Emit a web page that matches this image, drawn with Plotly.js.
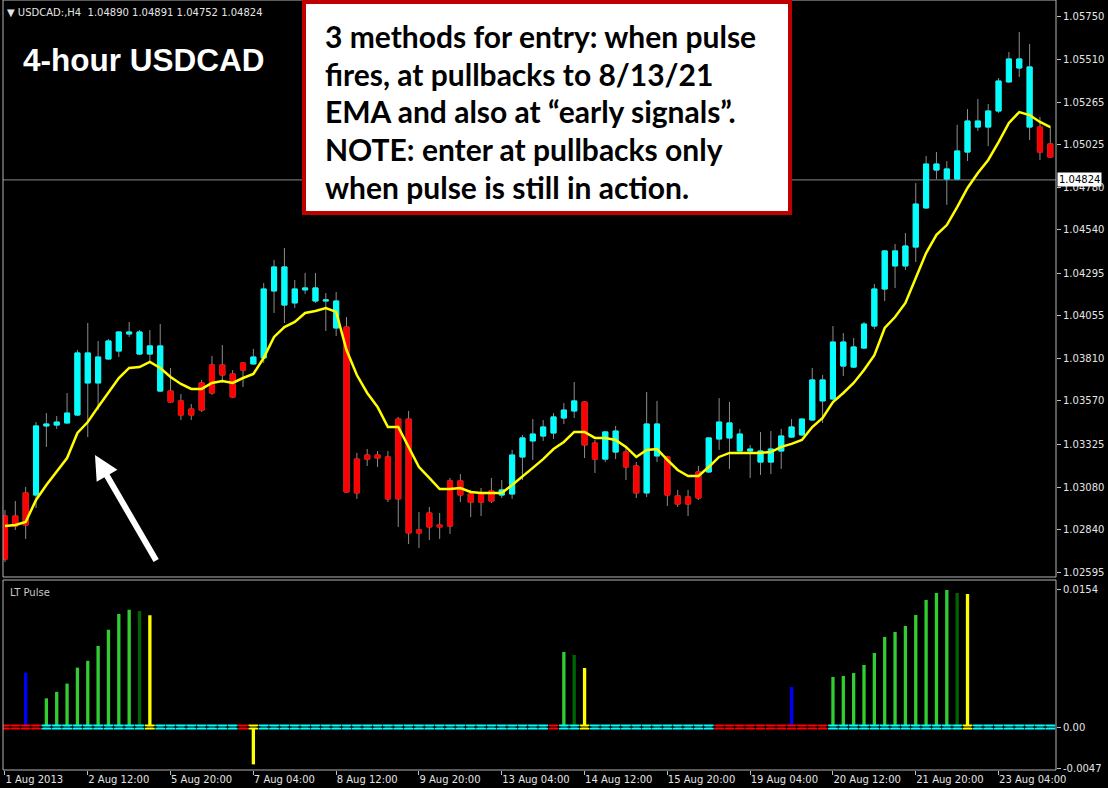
<!DOCTYPE html>
<html><head><meta charset="utf-8">
<script src="https://cdn.plot.ly/plotly-3.0.1.min.js"></script>
<style>html,body{margin:0;padding:0;background:#000;} #chart{width:1108px;height:788px;}</style>
</head><body><div id="chart"></div>
<script>
// ---- price data (4-hour bars, 1 Aug 2013 04:00 onward) ----
const open = [1.02917,1.02917,1.03048,1.03036,1.03428,1.03433,1.03445,1.03490,1.03672,1.03672,
1.03808,1.03853,1.03950,1.03836,1.03836,1.03626,1.03626,1.03570,1.03524,1.03672,
1.03774,1.03774,1.03723,1.03785,1.03780,1.03814,1.04194,1.04114,1.04126,1.04200,
1.04137,1.04137,1.03984,1.03989,1.03240,1.03263,1.03263,1.03252,1.03467,1.03467,
1.02838,1.02934,1.02866,1.03116,1.03116,1.03042,1.03042,1.03059,1.03036,1.03042,
1.03252,1.03343,1.03371,1.03388,1.03473,1.03513,1.03564,1.03331,1.03240,1.03280,
1.03280,1.03201,1.03048,1.03258,1.03252,1.03031,1.03025,1.03167,1.03167,1.03354,
1.03360,1.03286,1.03286,1.03223,1.03223,1.03286,1.03365,1.03377,1.03462,1.03570,
1.03581,1.03768,1.03762,1.03870,1.03995,1.04205,1.04336,1.04336,1.04443,1.04665,
1.04880,1.04829,1.04829,1.04982,1.05124,1.05124,1.05215,1.05380,1.05459,1.05124,
1.05124,1.05028];
const high = [1.02951,1.03002,1.03082,1.03450,1.03501,1.03484,1.03615,1.03859,1.04012,1.03910,
1.03921,1.03966,1.04018,1.03972,1.03972,1.04006,1.03757,1.03609,1.03553,1.03689,
1.03825,1.03887,1.03745,1.03790,1.03865,1.04239,1.04370,1.04438,1.04256,1.04296,
1.04296,1.04182,1.04188,1.04046,1.03275,1.03297,1.03286,1.03286,1.03479,1.03513,
1.02940,1.02968,1.02934,1.03133,1.03155,1.03065,1.03076,1.03133,1.03121,1.03292,
1.03377,1.03467,1.03462,1.03501,1.03558,1.03677,1.03570,1.03348,1.03399,1.03428,
1.03303,1.03223,1.03621,1.03570,1.03258,1.03065,1.03065,1.03201,1.03360,1.03586,
1.03564,1.03411,1.03320,1.03394,1.03399,1.03411,1.03467,1.03472,1.03757,1.03717,
1.03995,1.03955,1.03927,1.04018,1.04233,1.04426,1.04460,1.04523,1.04806,1.04960,
1.04982,1.04931,1.05136,1.05226,1.05283,1.05255,1.05402,1.05550,1.05663,1.05595,
1.05181,1.05124];
const low = [1.02656,1.02838,1.02787,1.02962,1.03309,1.03411,1.03440,1.03485,1.03365,1.03518,
1.03805,1.03819,1.03933,1.03830,1.03791,1.03620,1.03560,1.03462,1.03462,1.03507,
1.03604,1.03672,1.03586,1.03649,1.03775,1.03785,1.04069,1.04012,1.04097,1.04177,
1.04126,1.03967,1.03938,1.03048,1.03014,1.03201,1.03195,1.02996,1.02855,1.02758,
1.02735,1.02781,1.02787,1.02815,1.02996,1.02911,1.02917,1.02991,1.03019,1.03014,
1.03121,1.03235,1.03343,1.03354,1.03439,1.03473,1.03246,1.03161,1.03223,1.03240,
1.03121,1.03019,1.03025,1.03223,1.02974,1.02968,1.02917,1.03008,1.03161,1.03292,
1.03184,1.03280,1.03133,1.03150,1.03155,1.03184,1.03360,1.03372,1.03456,1.03445,
1.03575,1.03711,1.03757,1.03865,1.03978,1.04137,1.04211,1.04313,1.04358,1.04660,
1.04829,1.04682,1.04824,1.04931,1.05102,1.05016,1.05204,1.05375,1.05408,1.05050,
1.04937,1.04950];
const close = [1.02673,1.02860,1.02866,1.03428,1.03439,1.03450,1.03501,1.03842,1.03842,1.03819,
1.03910,1.03961,1.03961,1.03961,1.03882,1.03882,1.03564,1.03490,1.03490,1.03518,
1.03615,1.03717,1.03592,1.03745,1.03819,1.04205,1.04330,1.04330,1.04205,1.04211,
1.04211,1.04143,1.04137,1.03053,1.03048,1.03240,1.03246,1.03014,1.03014,1.02821,
1.02821,1.02855,1.02855,1.02860,1.03036,1.02996,1.02996,1.03002,1.03065,1.03263,
1.03360,1.03382,1.03422,1.03479,1.03518,1.03570,1.03320,1.03240,1.03394,1.03399,
1.03195,1.03048,1.03439,1.03439,1.03036,1.02985,1.02985,1.03019,1.03360,1.03450,
1.03445,1.03382,1.03297,1.03286,1.03297,1.03371,1.03422,1.03467,1.03689,1.03689,
1.03904,1.03904,1.03876,1.04006,1.04205,1.04421,1.04421,1.04449,1.04687,1.04914,
1.04914,1.04886,1.04988,1.05158,1.05158,1.05215,1.05385,1.05510,1.05510,1.05465,
1.04982,1.04954];
const ema = [1.02860,1.02866,1.02883,1.03008,1.03093,1.03167,1.03246,1.03388,1.03450,1.03536,
1.03621,1.03700,1.03757,1.03762,1.03791,1.03757,1.03706,1.03666,1.03638,1.03638,
1.03672,1.03683,1.03672,1.03700,1.03723,1.03814,1.03933,1.03989,1.04018,1.04069,
1.04080,1.04097,1.04075,1.03859,1.03717,1.03615,1.03536,1.03422,1.03422,1.03309,
1.03195,1.03133,1.03070,1.03070,1.03076,1.03053,1.03048,1.03048,1.03048,1.03093,
1.03139,1.03190,1.03240,1.03297,1.03337,1.03394,1.03394,1.03360,1.03360,1.03348,
1.03309,1.03252,1.03292,1.03297,1.03235,1.03178,1.03144,1.03144,1.03195,1.03252,
1.03275,1.03275,1.03275,1.03275,1.03280,1.03309,1.03326,1.03348,1.03422,1.03473,
1.03564,1.03615,1.03672,1.03745,1.03830,1.03984,1.04046,1.04126,1.04268,1.04409,
1.04512,1.04568,1.04670,1.04778,1.04863,1.04937,1.05039,1.05147,1.05209,1.05192,
1.05153,1.05124];
const bidPrice = 1.04824;
const headerText = "USDCAD:,H4  1.04890 1.04891 1.04752 1.04824";

// ---- LT Pulse indicator ----
const pulseGreenBars = [4,5,6,7,8,9,10,11,12,54,80,81,82,83,84,85,86,87,88,89,90,91];
const pulseGreenVals = [0.00322,0.00395,0.00488,0.00667,0.00744,0.00911,0.01093,0.01270,0.01318,0.00843,
  0.00562,0.00573,0.00607,0.00697,0.00832,0.01012,0.01068,0.01135,0.01259,0.01428,0.01506,0.01540];
const pulseDarkBars = [13,55,92];
const pulseDarkVals = [0.01303,0.00809,0.01506];
const pulseYellowBars = [14,24,56,93];
const pulseYellowVals = [0.01256,-0.0042,0.00663,0.01495];
const pulseBlueBars = [2,76];
const pulseBlueVals = [0.0061,0.0045];
const zeroBearBars = [0,1,2,3,23,53,69,70,71,72,73,74,75,76,77,78,79];
const zeroExitBars = [14,24,56,93];

// ---- axis labels ----
const priceTicks = [1.05750,1.05510,1.05265,1.05025,1.04780,1.04540,1.04295,1.04055,1.03810,1.03570,1.03325,1.03080,1.02840,1.02595];
const pulseTicks = [0.0154,0,-0.0047];
const pulseTickText = ["0.0154","0.00","-0.0047"];
const timeTickBars = [0,8,16,24,32,40,48,56,64,72,80,88,96];
const timeTickText = ["1 Aug 2013","2 Aug 12:00","5 Aug 20:00","7 Aug 04:00","8 Aug 12:00","9 Aug 20:00","13 Aug 04:00","14 Aug 12:00","15 Aug 20:00","19 Aug 04:00","20 Aug 12:00","21 Aug 20:00","23 Aug 04:00"];
const noteLines = ["3 methods for entry: when pulse","fires, at pullbacks to 8/13/21","EMA and also at \u201Cearly signals\u201D.","NOTE: enter at pullbacks only","when pulse is still in action."];

// ---- build ----
const idx = open.map((_, i) => i);
const bodyHigh = open.map((o, i) => Math.max(o, close[i]));
const bodyLow = open.map((o, i) => Math.min(o, close[i]));
const CYAN = '#00FFFF', RED = '#FF0000', WICK = '#8C8C8C';
const zeroColors = idx.map(i => zeroExitBars.includes(i) ? '#FFFF00' : (zeroBearBars.includes(i) ? RED : CYAN));

const traces = [
  {type:'candlestick', x:idx, open:open, high:high, low:low, close:close, xaxis:'x', yaxis:'y',
   increasing:{line:{color:WICK,width:1}, fillcolor:WICK}, decreasing:{line:{color:WICK,width:1}, fillcolor:WICK},
   whiskerwidth:0, hoverinfo:'skip', showlegend:false},
  {type:'candlestick', x:idx, open:open, high:bodyHigh, low:bodyLow, close:close, xaxis:'x', yaxis:'y',
   increasing:{line:{color:CYAN,width:1}, fillcolor:CYAN}, decreasing:{line:{color:RED,width:1}, fillcolor:RED},
   whiskerwidth:0, hoverinfo:'skip', showlegend:false},
  {type:'scatter', mode:'lines', x:idx, y:ema, xaxis:'x', yaxis:'y', line:{color:'#FFFF00', width:2.5}, hoverinfo:'skip', showlegend:false},
  {type:'bar', x:pulseGreenBars, y:pulseGreenVals, xaxis:'x', yaxis:'y2', width:0.32, marker:{color:'#32CD32', line:{width:0}}, showlegend:false},
  {type:'bar', x:pulseDarkBars, y:pulseDarkVals, xaxis:'x', yaxis:'y2', width:0.32, marker:{color:'#006400', line:{width:0}}, showlegend:false},
  {type:'bar', x:pulseYellowBars, y:pulseYellowVals, xaxis:'x', yaxis:'y2', width:0.32, marker:{color:'#FFFF00', line:{width:0}}, showlegend:false},
  {type:'bar', x:pulseBlueBars, y:pulseBlueVals, xaxis:'x', yaxis:'y2', width:0.32, marker:{color:'#0000FF', line:{width:0}}, showlegend:false},
  {type:'scatter', mode:'markers', x:idx, y:idx.map(() => 0), xaxis:'x', yaxis:'y2',
   marker:{symbol:'line-ew', size:7, line:{color:zeroColors, width:5}}, hoverinfo:'skip', showlegend:false},
  {type:'scatter', mode:'markers', x:idx, y:idx.map(() => 0), xaxis:'x', yaxis:'y2',
   marker:{symbol:'line-ew', size:10, line:{color:'#000000', width:1}}, hoverinfo:'skip', showlegend:false}
];

const TICKFONT = {family:'DejaVu Sans, Verdana, sans-serif', size:10, color:'#E4E4E4'};
const mainBottom = (770-577)/770, subTop = (770-580)/770;
const px = v => (v-3)/1053, py = v => (770-v)/770;

const annotations = [
  {xref:'paper', yref:'paper', x:px(5), y:py(12), xanchor:'left', yanchor:'middle', showarrow:false,
   text:'\u25BC '+headerText, font:{family:'DejaVu Sans, sans-serif', size:10, color:'#E4E4E4'}},
  {xref:'paper', yref:'paper', x:px(21), y:py(60), xanchor:'left', yanchor:'middle', showarrow:false,
   text:'<b>4-hour USDCAD</b>', font:{family:'Liberation Sans, Arial, sans-serif', size:31.5, color:'#FFFFFF'}},
  {xref:'paper', yref:'paper', x:px(8), y:py(592), xanchor:'left', yanchor:'middle', showarrow:false,
   text:'LT Pulse', font:{family:'DejaVu Sans, sans-serif', size:10, color:'#C8C8C8'}},
  {xref:'paper', yref:'y', x:1, y:bidPrice, xanchor:'left', yanchor:'middle', showarrow:false, xshift:1,
   text:bidPrice.toFixed(5), bgcolor:'#FFFFFF', font:{family:'DejaVu Sans, sans-serif', size:10, color:'#000000'}, borderpad:1},
  {xref:'x', yref:'y', x:8.7, y:1.03263, ax:62, ay:107, showarrow:true, text:'', arrowcolor:'#FFFFFF',
   arrowwidth:6, arrowhead:2, arrowsize:0.8}
];
noteLines.forEach((t, k) => annotations.push({xref:'paper', yref:'paper', x:px(323), y:py(36 + k*37.7),
  xanchor:'left', yanchor:'middle', showarrow:false, text:'<b>'+t+'</b>',
  font:{family:'Lato, Open Sans, sans-serif', size:30, color:'#000000'}}));

const layout = {
  width:1108, height:788, margin:{l:3, r:52, t:0, b:18},
  paper_bgcolor:'#000000', plot_bgcolor:'#000000', showlegend:false, barmode:'overlay',
  xaxis:{anchor:'y2', range:[-0.19, 101.55], rangeslider:{visible:false}, tickvals:timeTickBars, ticktext:timeTickText,
    ticks:'outside', ticklen:4, tickcolor:'#C0C0C0', ticklabelposition:'outside right', tickfont:TICKFONT,
    showgrid:false, zeroline:false, showline:false},
  yaxis:{domain:[mainBottom,1], range:[1.025709, 1.058448], side:'right', anchor:'x', tickvals:priceTicks,
    ticktext:priceTicks.map(v => v.toFixed(5)), ticks:'outside', ticklen:4, tickcolor:'#C0C0C0', tickfont:TICKFONT,
    showgrid:false, zeroline:false, showline:false},
  yaxis2:{domain:[0,subTop], range:[-0.00483, 0.01652], side:'right', anchor:'x', tickvals:pulseTicks, ticktext:pulseTickText,
    ticks:'outside', ticklen:4, tickcolor:'#C0C0C0', tickfont:TICKFONT, showgrid:false, zeroline:false, showline:false},
  shapes:[
    {type:'rect', xref:'paper', yref:'paper', x0:0, x1:1, y0:mainBottom, y1:1, line:{color:'#B4B4B4', width:1}, layer:'above'},
    {type:'rect', xref:'paper', yref:'paper', x0:0, x1:1, y0:0, y1:subTop, line:{color:'#B4B4B4', width:1}, layer:'above'},
    {type:'line', xref:'paper', yref:'y', x0:0, x1:1, y0:bidPrice, y1:bidPrice, line:{color:'#8A8A8A', width:1}, layer:'below'},
    {type:'rect', xref:'paper', yref:'paper', x0:px(304), x1:px(790), y0:py(213), y1:py(2), fillcolor:'#FFFFFF',
     line:{color:'#C00000', width:4}, layer:'above'}
  ],
  annotations:annotations
};
Plotly.newPlot('chart', traces, layout, {staticPlot:true, displayModeBar:false});
</script></body></html>
